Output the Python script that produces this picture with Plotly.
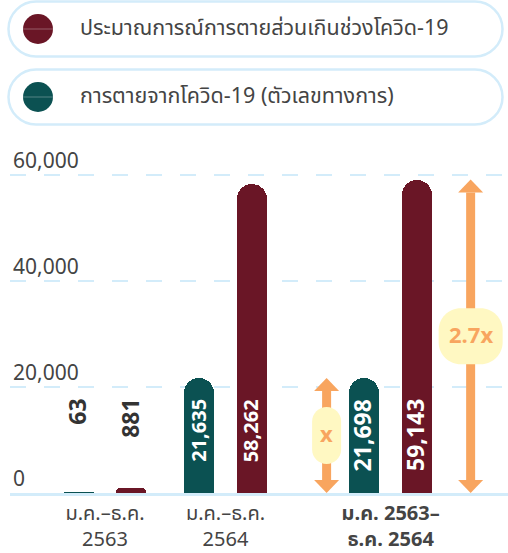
import plotly.graph_objects as go

# data
periods = ["ม.ค.–ธ.ค.<br>2563", "ม.ค.–ธ.ค.<br>2564", "<b>ม.ค. 2563–</b><br><b>ธ.ค. 2564</b>"]
official_deaths = [63, 21635, 21698]
excess_deaths = [881, 58262, 59143]
official_name = "การตายจากโควิด-19 (ตัวเลขทางการ)"
excess_name = "ประมาณการณ์การตายส่วนเกินช่วงโควิด-19"
ratio_labels = ["x", "2.7x"]
y_ticks = [0, 20000, 40000, 60000]

# layout constants
W, H = 508, 553
ML, MR, MT, MB = 10, 0, 140, 60
PW, PH = W - ML - MR, H - MT - MB
Y_MAX = 66600
Y_PER_PX = Y_MAX / PH

MAROON = "#6a1626"
TEAL = "#0b5152"
ORANGE = "#f8a55f"
BUBBLE = "#fff8c2"
GRID = "#d3ecfa"
TEXT = "#444444"
FONT = "Noto Sans Thai, Noto Sans, sans-serif"

group_x = [0, 1, 2.37]
X_RANGE = [-0.788, 3.344]
BAR_OFF = 0.218
BAR_W = 0.25
LABEL_Y = 18100
LABEL_SIZES = [23, 20, 23]  # small-value and total groups are printed a bit bigger


def paper_x(px):
    return (px - ML) / PW


def paper_y(py):
    return (MT + PH - py) / PH


def rounded_rect(w, h, r):
    k = 0.5523 * r
    x0, x1, y0, y1 = -w / 2, w / 2, -h / 2, h / 2
    return (f"M {x0 + r},{y0} L {x1 - r},{y0} "
            f"C {x1 - r + k},{y0} {x1},{y0 + r - k} {x1},{y0 + r} "
            f"L {x1},{y1 - r} "
            f"C {x1},{y1 - r + k} {x1 - r + k},{y1} {x1 - r},{y1} "
            f"L {x0 + r},{y1} "
            f"C {x0 + r - k},{y1} {x0},{y1 - r + k} {x0},{y1 - r} "
            f"L {x0},{y0 + r} "
            f"C {x0},{y0 + r - k} {x0 + r - k},{y0} {x0 + r},{y0} Z")


fig = go.Figure()

fig.add_trace(go.Bar(
    x=[g - BAR_OFF for g in group_x], y=official_deaths,
    width=BAR_W, name=official_name,
    marker=dict(color=TEAL, line=dict(width=0), cornerradius=15),
    showlegend=False,
))
fig.add_trace(go.Bar(
    x=[g + BAR_OFF for g in group_x], y=excess_deaths,
    width=BAR_W, name=excess_name,
    marker=dict(color=MAROON, line=dict(width=0), cornerradius=15),
    showlegend=False,
))

# value labels (rotated)
for i, g in enumerate(group_x):
    for xpos, v in ((g - BAR_OFF, official_deaths[i]), (g + BAR_OFF, excess_deaths[i])):
        fig.add_annotation(
            x=xpos, y=LABEL_Y, text=f"<b>{v:,}</b>", textangle=-90,
            showarrow=False, xanchor="center", yanchor="top",
            font=dict(family=FONT, size=LABEL_SIZES[i],
                      color="white" if v > 20000 else "#333333"),
        )

# comparison arrows
arrow_x = [group_x[2] - 0.531, group_x[2] + 0.664]
arrow_top = [official_deaths[2], excess_deaths[2]]
bubble_size = [(29, 57, 14.5), (64, 56, 22)]
HEAD_H, HEAD_W = 13, 25
for ax, top, lab, (bw, bh, br) in zip(arrow_x, arrow_top, ratio_labels, bubble_size):
    fig.add_shape(type="line", x0=ax, x1=ax,
                  y0=HEAD_H * Y_PER_PX, y1=top - HEAD_H * Y_PER_PX,
                  line=dict(color=ORANGE, width=9), layer="above")
    fig.add_shape(type="path", xsizemode="pixel", ysizemode="pixel",
                  xanchor=ax, yanchor=top,
                  path=f"M {-HEAD_W / 2},{-HEAD_H} L {HEAD_W / 2},{-HEAD_H} L 0,0 Z",
                  fillcolor=ORANGE, line=dict(width=0), layer="above")
    fig.add_shape(type="path", xsizemode="pixel", ysizemode="pixel",
                  xanchor=ax, yanchor=0,
                  path=f"M {-HEAD_W / 2},{HEAD_H} L {HEAD_W / 2},{HEAD_H} L 0,0 Z",
                  fillcolor=ORANGE, line=dict(width=0), layer="above")
    fig.add_shape(type="path", xsizemode="pixel", ysizemode="pixel",
                  xanchor=ax, yanchor=top / 2, path=rounded_rect(bw, bh, br),
                  fillcolor=BUBBLE, line=dict(width=0), layer="above")
    fig.add_annotation(x=ax, y=top / 2, text=f"<b>{lab}</b>", showarrow=False,
                       font=dict(family=FONT, size=22, color=ORANGE))

# legend pills drawn by hand
legend_items = [(excess_name, MAROON, 29), (official_name, TEAL, 97)]
for name, color, cy in legend_items:
    fig.add_shape(type="path", xref="paper", yref="paper",
                  xsizemode="pixel", ysizemode="pixel",
                  xanchor=paper_x(255.5), yanchor=paper_y(cy),
                  path=rounded_rect(494, 55, 27.5),
                  fillcolor="white", line=dict(color=GRID, width=2.5))
    fig.add_shape(type="circle", xref="paper", yref="paper",
                  xsizemode="pixel", ysizemode="pixel",
                  xanchor=paper_x(38), yanchor=paper_y(cy),
                  x0=-15, x1=15, y0=-15, y1=15,
                  fillcolor=color, line=dict(width=0))
    fig.add_shape(type="line", xref="paper", yref="paper",
                  xsizemode="pixel", ysizemode="pixel",
                  xanchor=paper_x(38), yanchor=paper_y(cy),
                  x0=-15, x1=15, y0=0, y1=0,
                  line=dict(color="rgba(255,255,255,0.3)", width=1))
    fig.add_annotation(xref="paper", yref="paper", x=paper_x(78), y=paper_y(cy),
                       text=name, showarrow=False, xanchor="left", yanchor="middle",
                       font=dict(family=FONT, size=21.5, color=TEXT))

fig.update_layout(
    width=W, height=H,
    margin=dict(l=ML, r=MR, t=MT, b=MB),
    paper_bgcolor="white", plot_bgcolor="white",
    bargap=0, showlegend=False,
    font=dict(family=FONT, color=TEXT),
    xaxis=dict(
        range=X_RANGE, tickvals=group_x, ticktext=periods,
        showgrid=False, zeroline=False, ticks="",
        showline=True, linecolor=GRID, linewidth=3,
        automargin=False, ticklabelstandoff=0,
        tickfont=dict(size=20, color=TEXT),
    ),
    yaxis=dict(
        range=[0, Y_MAX], tickvals=y_ticks, tickformat=",",
        showgrid=True, gridcolor=GRID, gridwidth=2, griddash="16px,18px",
        zeroline=False, ticks="", automargin=False,
        ticklabelposition="inside", ticklabelshift=-14, ticklabelstandoff=0,
        ticklabeloverflow="allow",
        tickfont=dict(size=21, color=TEXT),
    ),
)

# page body has a default margin; drop it so the figure sits at the window's corner
fig.write_html("out.html", config={"displayModeBar": False},
               post_script="document.body.style.margin='0';")
